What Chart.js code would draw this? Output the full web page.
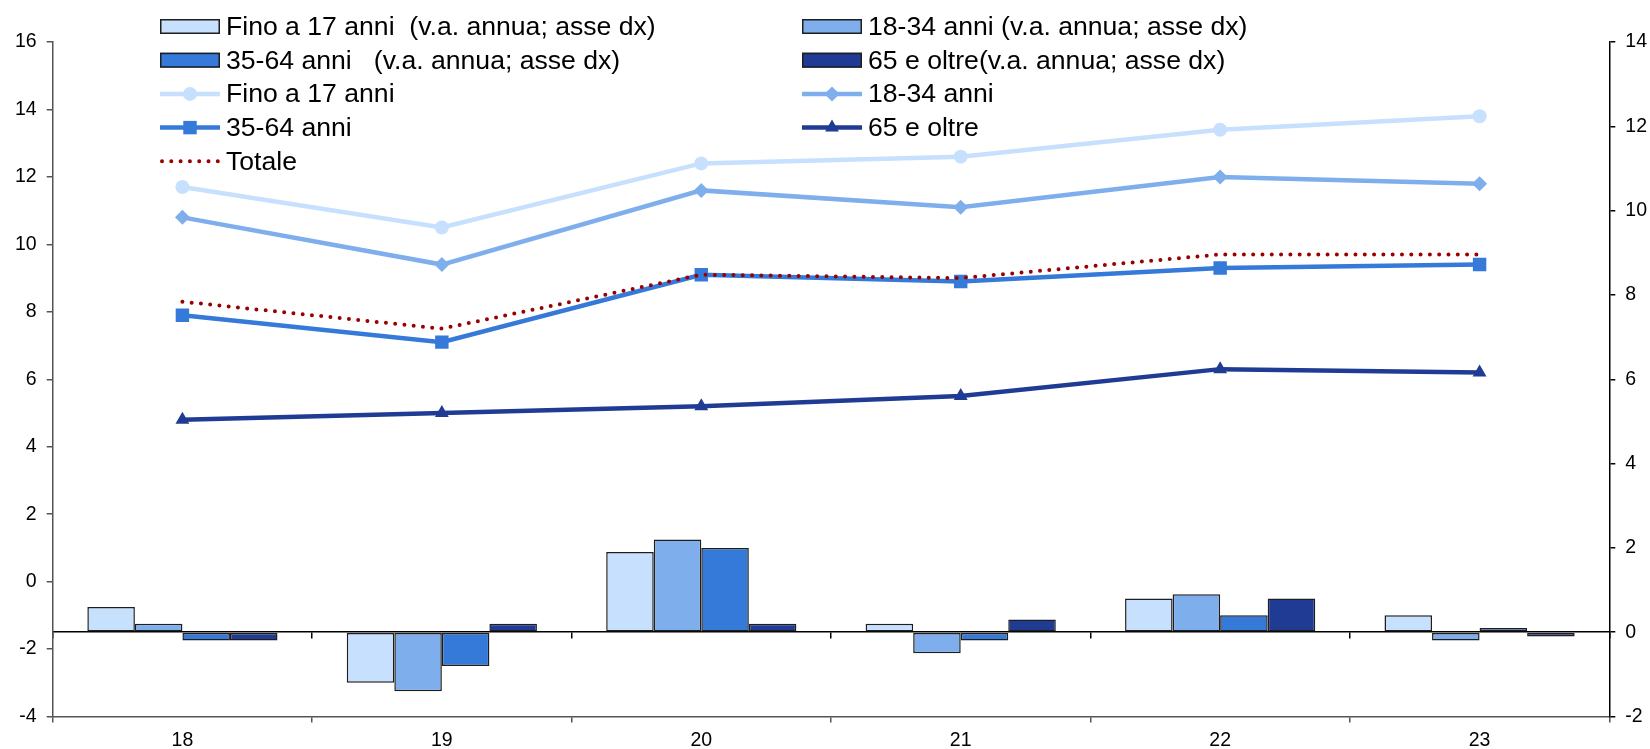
<!DOCTYPE html>
<html>
<head>
<meta charset="utf-8">
<title>Popolazione per fascia di età</title>
<script src="https://cdn.jsdelivr.net/npm/chart.js@4.4.1/dist/chart.umd.min.js"></script>
<style>
  html, body { margin: 0; padding: 0; background: #ffffff; }
  #wrap { position: relative; width: 1650px; height: 749px; }
</style>
</head>
<body>
<div id="wrap"><canvas id="c"></canvas></div>
<script>
// Years on the category axis
const years = ['18', '19', '20', '21', '22', '23'];

// Annual change (v.a. annua), right axis
const barFino = [0.6, -1.2, 1.9, 0.2, 0.8, 0.4];
const bar1834 = [0.2, -1.4, 2.2, -0.5, 0.9, -0.2];
const bar3564 = [-0.2, -0.8, 2.0, -0.2, 0.4, 0.1];
const bar65   = [-0.2, 0.2, 0.2, 0.3, 0.8, -0.1];

// Levels, left axis
const lineFino = [11.7, 10.5, 12.4, 12.6, 13.4, 13.8];
const line1834 = [10.8, 9.4, 11.6, 11.1, 12.0, 11.8];
const line3564 = [7.9, 7.1, 9.1, 8.9, 9.3, 9.4];
const line65   = [4.8, 5.0, 5.2, 5.5, 6.3, 6.2];
const lineTot  = [8.3, 7.5, 9.1, 9.0, 9.7, 9.7];

// Axis ranges
const leftAxis  = { min: -4, max: 16, step: 2 };
const rightAxis = { min: -2, max: 14, step: 2 };

const FONT = '"Liberation Sans", Arial, sans-serif';
const C_FINO = '#c6e0fd';
const C_1834 = '#7eaeec';
const C_3564 = '#357ad9';
const C_65   = '#203b94';
const C_TOT  = '#990000';

function barSet(label, data, color) {
  return {
    type: 'bar', label, data, yAxisID: 'y2', order: 3,
    backgroundColor: color, borderColor: '#1e1e1e', borderWidth: 1.5,
    borderSkipped: false, categoryPercentage: 0.733, barPercentage: 1.0
  };
}
function lineSet(label, data, color, style, radius) {
  return {
    type: 'line', label, data, yAxisID: 'y', order: 1,
    borderColor: color, backgroundColor: color, borderWidth: 4.5,
    pointStyle: style, pointRadius: radius, pointBorderWidth: 0,
    pointBackgroundColor: color, pointHoverRadius: radius,
    fill: false, tension: 0
  };
}

// Legend in two columns, drawn over the upper part of the plot
function drawMarker(ctx, style, x, y, r) {
  ctx.beginPath();
  if (style === 'circle') {
    ctx.arc(x, y, r, 0, Math.PI * 2);
  } else if (style === 'rectRot') {
    ctx.moveTo(x - r, y); ctx.lineTo(x, y - r); ctx.lineTo(x + r, y); ctx.lineTo(x, y + r);
  } else if (style === 'rect') {
    const s = r * Math.SQRT1_2;
    ctx.rect(x - s, y - s, 2 * s, 2 * s);
  } else if (style === 'triangle') {
    for (let k = 0; k < 3; k++) {
      const a = k * 2 * Math.PI / 3;
      const px = x + Math.sin(a) * r, py = y - Math.cos(a) * r;
      if (k === 0) ctx.moveTo(px, py); else ctx.lineTo(px, py);
    }
  }
  ctx.closePath();
  ctx.fill();
}

const twoColLegend = {
  id: 'twoColLegend',
  afterDraw(chart) {
    const ctx = chart.ctx;
    const colX = [160, 802];
    const rowY0 = 26.5, rowH = 33.7;
    const keyW = 60, boxH = 15, gap = 6;
    ctx.save();
    ctx.font = '26.6px ' + FONT;
    ctx.textBaseline = 'middle';
    ctx.textAlign = 'left';
    chart.data.datasets.forEach((ds, i) => {
      const x = colX[i % 2];
      const y = rowY0 + Math.floor(i / 2) * rowH;
      if (ds.type === 'bar') {
        ctx.fillStyle = ds.backgroundColor;
        ctx.fillRect(x, y - boxH / 2, keyW, boxH);
        ctx.strokeStyle = ds.borderColor;
        ctx.lineWidth = 1.5;
        ctx.strokeRect(x + 0.75, y - boxH / 2 + 0.75, keyW - 1.5, boxH - 1.5);
      } else {
        ctx.strokeStyle = ds.borderColor;
        ctx.lineWidth = ds.borderWidth;
        ctx.lineCap = ds.borderCapStyle || 'butt';
        ctx.setLineDash(ds.borderDash || []);
        ctx.beginPath();
        ctx.moveTo(x + (ds.borderDash ? 2 : 0), y);
        ctx.lineTo(x + keyW, y);
        ctx.stroke();
        ctx.setLineDash([]);
        ctx.lineCap = 'butt';
        if (ds.pointRadius > 0) {
          ctx.fillStyle = ds.pointBackgroundColor;
          drawMarker(ctx, ds.pointStyle, x + keyW / 2, y, ds.pointRadius);
        }
      }
      ctx.fillStyle = '#000000';
      ctx.fillText(ds.label, x + keyW + gap, y + 1);
    });
    ctx.restore();
  }
};

const datasets = [
  barSet('Fino a 17 anni  (v.a. annua; asse dx)', barFino, C_FINO),
  barSet('18-34 anni (v.a. annua; asse dx)', bar1834, C_1834),
  barSet('35-64 anni   (v.a. annua; asse dx)', bar3564, C_3564),
  barSet('65 e oltre(v.a. annua; asse dx)', bar65, C_65),
  lineSet('Fino a 17 anni', lineFino, C_FINO, 'circle', 7),
  lineSet('18-34 anni', line1834, C_1834, 'rectRot', 7.5),
  lineSet('35-64 anni', line3564, C_3564, 'rect', 9.5),
  lineSet('65 e oltre', line65, C_65, 'triangle', 8),
  {
    type: 'line', label: 'Totale', data: lineTot, yAxisID: 'y', order: 0,
    borderColor: C_TOT, backgroundColor: C_TOT, borderWidth: 4,
    borderDash: [0, 9.3], borderCapStyle: 'round',
    pointRadius: 0, pointHoverRadius: 0, fill: false, tension: 0
  }
];

new Chart(document.getElementById('c'), {
  type: 'bar',
  data: { labels: years, datasets },
  plugins: [twoColLegend],
  options: {
    responsive: true,
    maintainAspectRatio: false,
    animation: false,
    events: [],
    layout: { padding: { top: 42, left: 0, right: 0, bottom: 0 } },
    plugins: { legend: { display: false }, tooltip: { enabled: false } },
    scales: {
      x: {
        type: 'category', position: 'bottom', offset: true,
        grid: { offset: true, drawOnChartArea: false, drawTicks: true, tickLength: 6, color: '#555555', lineWidth: 1.5 },
        border: { color: '#555555', width: 1.5 },
        ticks: { color: '#000000', font: { family: FONT, size: 19.5 }, padding: 6, maxRotation: 0 },
        afterFit: s => { s.height = 32.5; }
      },
      x2: {
        type: 'category', labels: years, position: { y2: 0 }, offset: true,
        grid: { offset: true, drawOnChartArea: false, drawTicks: true, tickLength: 6, color: '#000000', lineWidth: 1.5 },
        border: { color: '#000000', width: 1.5 },
        ticks: { display: false }
      },
      y: {
        position: 'left', min: leftAxis.min, max: leftAxis.max,
        grid: { drawOnChartArea: false, drawTicks: true, tickLength: 6, color: '#555555', lineWidth: 1.5 },
        border: { color: '#555555', width: 1.5 },
        ticks: { stepSize: leftAxis.step, color: '#000000', font: { family: FONT, size: 19.5 }, padding: 10 },
        afterFit: s => { s.width = 52.7; }
      },
      y2: {
        position: 'right', min: rightAxis.min, max: rightAxis.max,
        grid: { drawOnChartArea: false, drawTicks: true, tickLength: 6, color: '#000000', lineWidth: 1.5 },
        border: { color: '#000000', width: 1.5 },
        ticks: { stepSize: rightAxis.step, color: '#000000', font: { family: FONT, size: 19.5 }, padding: 10 },
        afterFit: s => { s.width = 40.7; }
      }
    }
  }
});
</script>
</body>
</html>
